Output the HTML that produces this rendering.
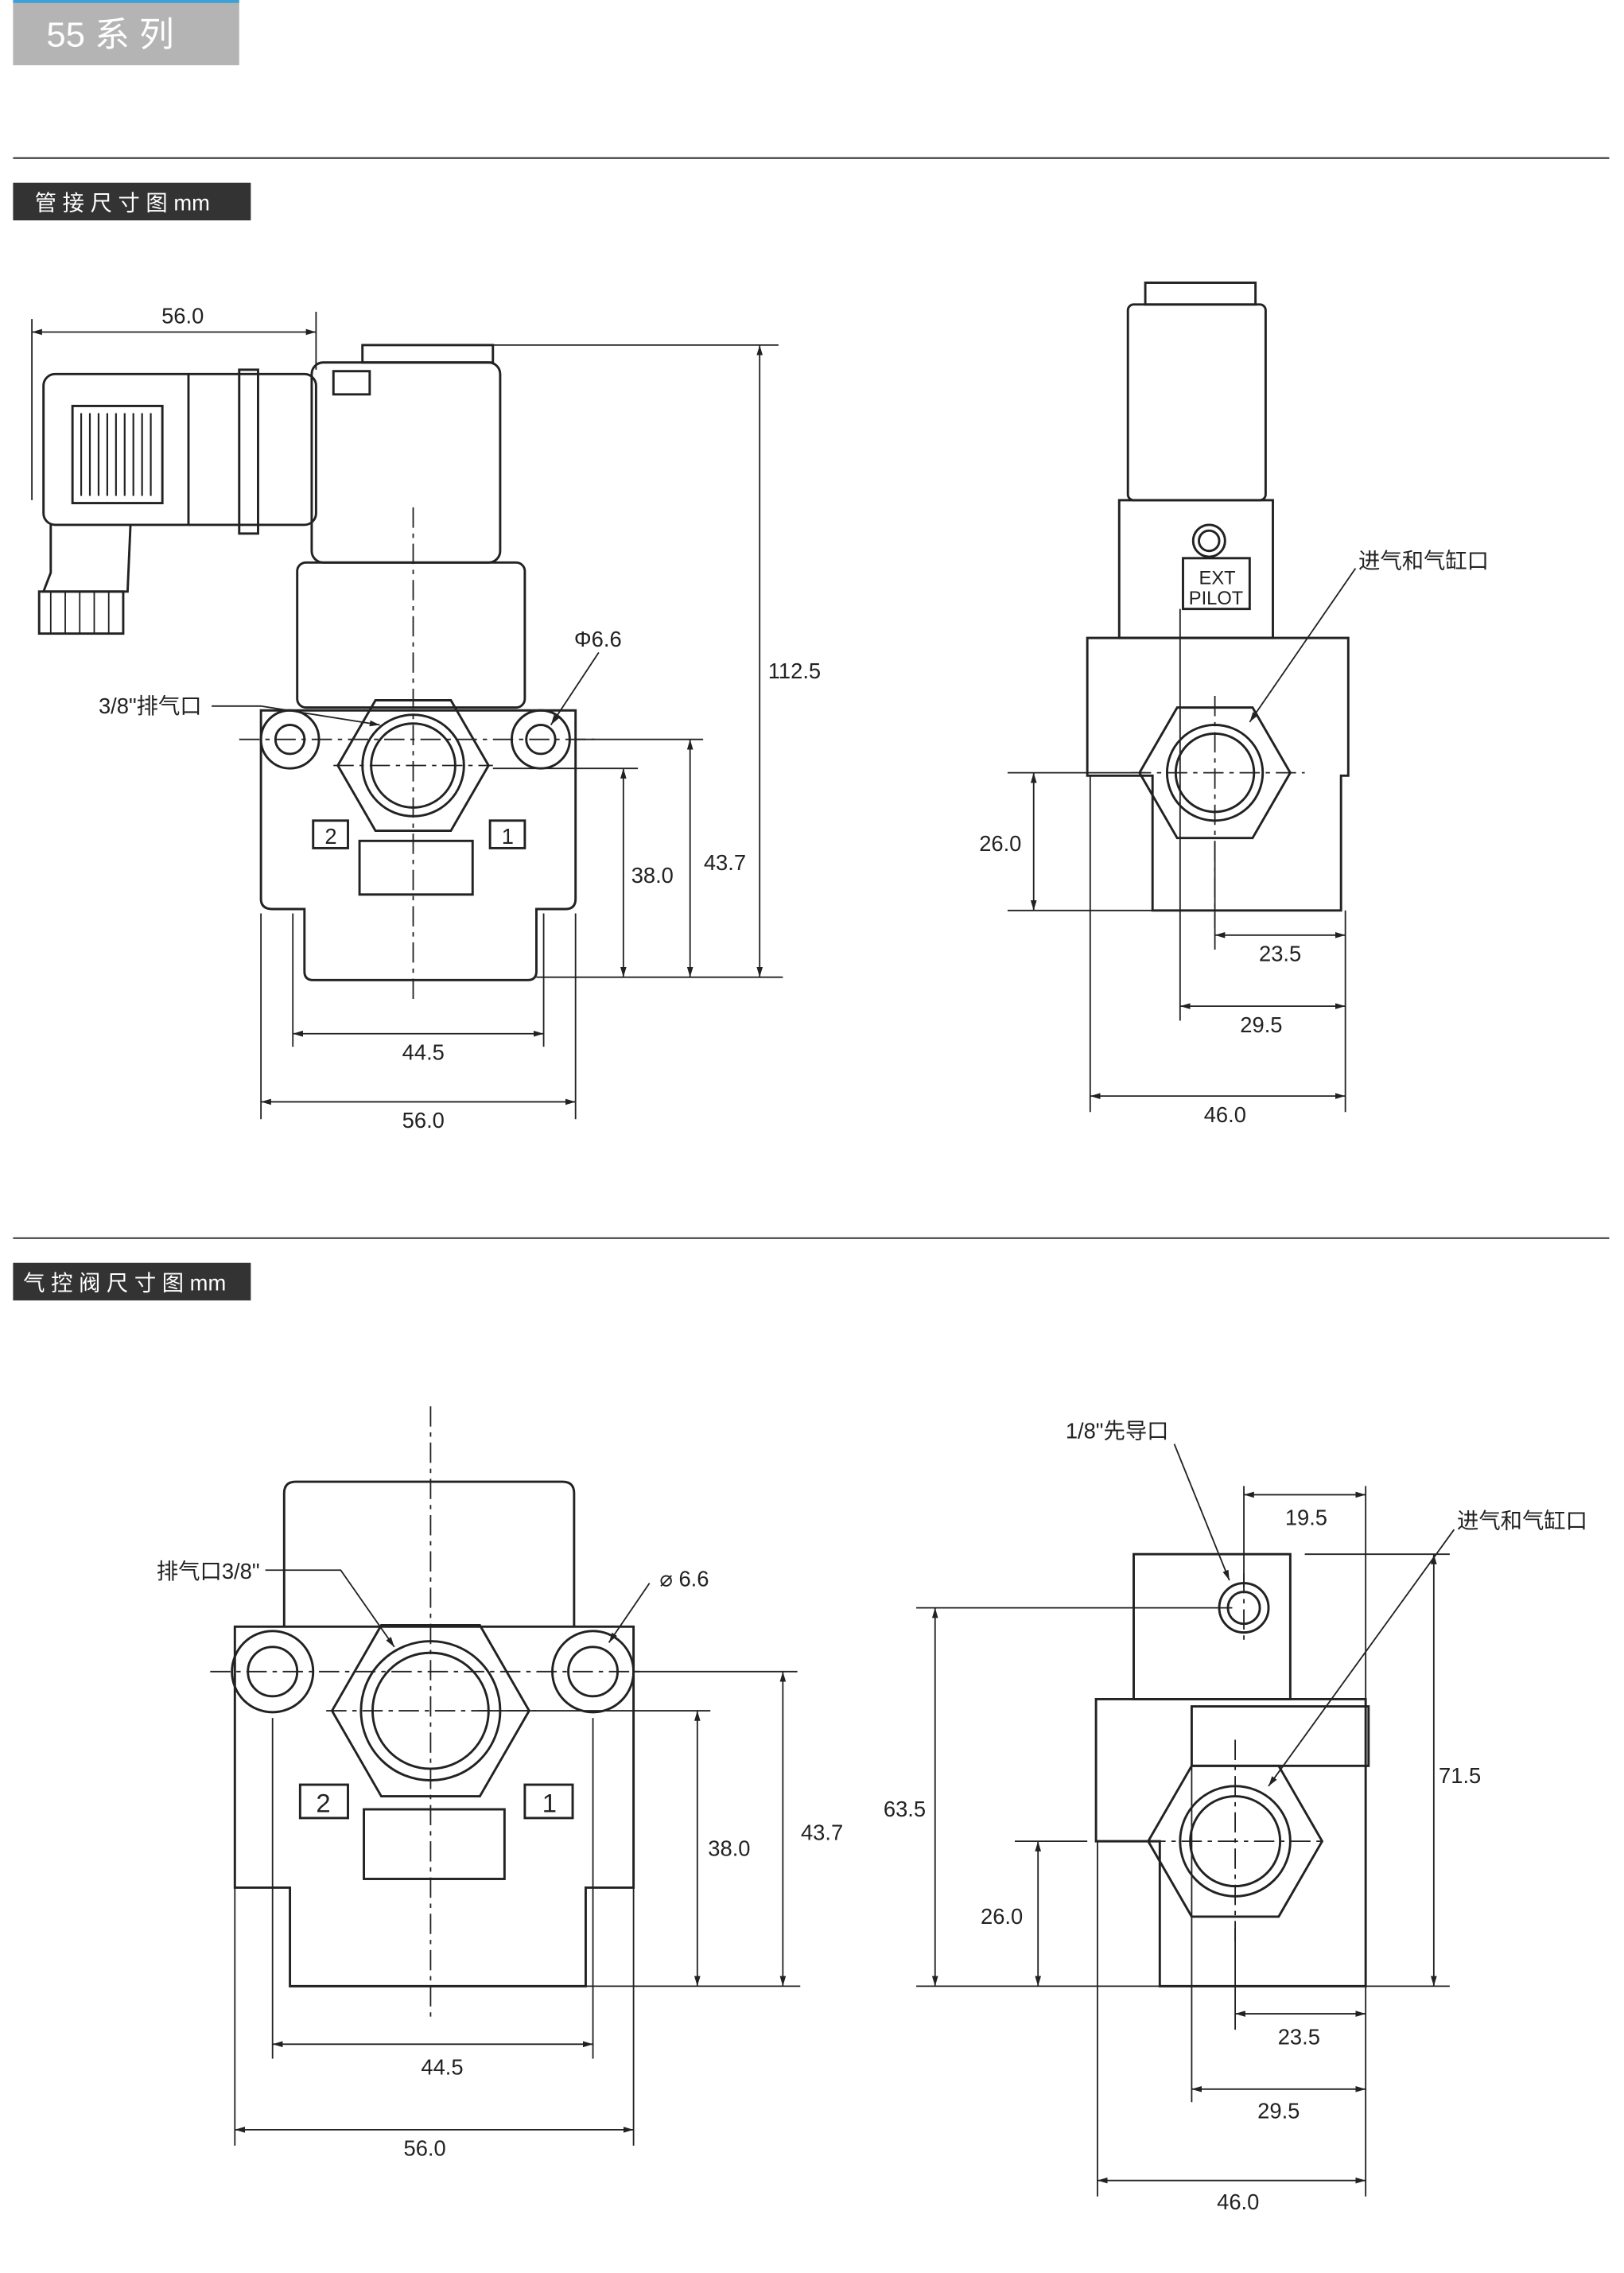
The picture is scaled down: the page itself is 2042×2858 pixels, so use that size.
<!DOCTYPE html>
<html><head><meta charset="utf-8"><style>
html,body{margin:0;padding:0;background:#fff;}
svg{display:block;}
text{font-family:"Liberation Sans","Noto Sans CJK SC",sans-serif;fill:#222;}
</style></head><body>
<svg width="2042" height="2858" viewBox="0 0 1120.2 1567.8" xmlns="http://www.w3.org/2000/svg">
<defs>
<marker id="a" viewBox="0 0 10 10" refX="10" refY="5" markerWidth="7" markerHeight="7" orient="auto-start-reverse"><path d="M0,2 L10,5 L0,8 z" fill="#222"/></marker>
</defs>
<!-- header -->
<rect x="9" y="0" width="156" height="45" fill="#b4b4b4"/>
<rect x="9" y="0" width="156" height="2" fill="#3aa0d8"/>
<text x="32" y="32" font-size="24" style="fill:#fff">55 系 列</text>
<line x1="9" y1="109" x2="1110" y2="109" stroke="#444" stroke-width="1.2"/>
<rect x="9" y="126" width="164" height="26" fill="#333"/>
<text x="24" y="145" font-size="15" style="fill:#fff">管 接 尺 寸 图 mm</text>
<line x1="9" y1="854" x2="1110" y2="854" stroke="#444" stroke-width="1.2"/>
<rect x="9" y="871" width="164" height="26" fill="#333"/>
<text x="16" y="890" font-size="15" style="fill:#fff">气 控 阀 尺 寸 图 mm</text>

<g fill="none" stroke="#222" stroke-width="1.6">
<!-- drawing 1 -->
<rect x="30" y="258" width="188" height="104" rx="8"/>
<rect x="50" y="280" width="62" height="67"/>
<path d="M56,285v57M62,285v57M68,285v57M74,285v57M80,285v57M86,285v57M92,285v57M98,285v57M104,285v57" stroke-width="1.2"/>
<line x1="130" y1="258" x2="130" y2="362"/>
<rect x="165" y="255" width="13" height="113"/>
<path d="M35,362 L35,395 L30,408 L88,408 L90,362"/>
<rect x="27" y="408" width="58" height="29"/>
<path d="M35,408v29M45,408v29M55,408v29M65,408v29M75,408v29" stroke-width="1"/>
<rect x="250" y="238" width="90" height="12"/>
<rect x="215" y="250" width="130" height="138" rx="8"/>
<rect x="230" y="256" width="25" height="16"/>
<rect x="205" y="388" width="157" height="100" rx="6"/>
<path d="M200,490 L180,490 Q180,500 180,510 L180,620 Q180,627 188,627 L210,627 L210,670 Q210,676 216,676 L364,676 Q370,676 370,670 L370,627 L390,627 Q397,627 397,620 L397,490 Z"/>
<circle cx="200" cy="510" r="20"/><circle cx="200" cy="510" r="10"/>
<circle cx="373" cy="510" r="20"/><circle cx="373" cy="510" r="10"/>
<polygon points="233,528 259,483 311,483 337,528 311,573 259,573"/>
<circle cx="285" cy="528" r="35"/><circle cx="285" cy="528" r="29"/>
<rect x="216" y="566" width="24" height="19"/><rect x="338" y="566" width="24" height="19"/>
<rect x="248" y="580" width="78" height="37"/>
<!-- drawing 2 -->
<rect x="790" y="195" width="76" height="15"/>
<rect x="778" y="210" width="95" height="135" rx="4"/>
<rect x="772" y="345" width="106" height="95"/>
<circle cx="834" cy="373" r="11"/><circle cx="834" cy="373" r="7"/>
<rect x="816" y="385" width="46" height="35"/>
<path d="M750,440 L930,440 L930,535 L925,535 L925,628 L795,628 L795,535 L750,535 Z"/>
<polygon points="786,533 812,488 864,488 890,533 864,578 812,578"/>
<circle cx="838" cy="533" r="33"/><circle cx="838" cy="533" r="27"/>
<!-- drawing 3 -->
<path d="M196,1122 L196,1030 Q196,1022 204,1022 L388,1022 Q396,1022 396,1030 L396,1122"/>
<path d="M162,1122 L437,1122 L437,1302 L404,1302 L404,1370 L200,1370 L200,1302 L162,1302 Z"/>
<circle cx="188" cy="1153" r="28"/><circle cx="188" cy="1153" r="17"/>
<circle cx="409" cy="1153" r="28"/><circle cx="409" cy="1153" r="17"/>
<polygon points="229,1180 263,1121 331,1121 365,1180 331,1239 263,1239"/>
<circle cx="297" cy="1180" r="48"/><circle cx="297" cy="1180" r="40"/>
<rect x="207" y="1231" width="33" height="23"/><rect x="362" y="1231" width="33" height="23"/>
<rect x="251" y="1248" width="97" height="48"/>
<!-- drawing 4 -->
<rect x="782" y="1072" width="108" height="100"/>
<circle cx="858" cy="1109" r="17"/><circle cx="858" cy="1109" r="11"/>
<path d="M756,1172 L942,1172 L942,1370 L800,1370 L800,1270 L756,1270 Z"/>
<rect x="822" y="1177" width="122" height="41"/>
<polygon points="792,1270 822,1218 882,1218 912,1270 882,1322 822,1322"/>
<circle cx="852" cy="1270" r="38"/><circle cx="852" cy="1270" r="31"/>
</g>
<text x="827" y="403" font-size="13">EXT</text>
<text x="820" y="417" font-size="13">PILOT</text>
<text x="224" y="582" font-size="15">2</text><text x="346" y="582" font-size="15">1</text>
<text x="218" y="1250" font-size="18">2</text><text x="374" y="1250" font-size="18">1</text>

<!-- center lines -->
<g stroke="#222" stroke-width="1" stroke-dasharray="14,4,3,4" fill="none">
<line x1="285" y1="350" x2="285" y2="690"/><line x1="230" y1="528" x2="340" y2="528"/>
<line x1="165" y1="510" x2="410" y2="510"/>
<line x1="838" y1="480" x2="838" y2="640"/><line x1="780" y1="533" x2="900" y2="533"/>
<line x1="297" y1="970" x2="297" y2="1395"/><line x1="145" y1="1153" x2="445" y2="1153"/>
<line x1="225" y1="1180" x2="370" y2="1180"/>
<line x1="852" y1="1200" x2="852" y2="1340"/><line x1="790" y1="1270" x2="915" y2="1270"/>
<line x1="858" y1="1085" x2="858" y2="1135"/>
</g>

<!-- dims -->
<g stroke="#222" stroke-width="1" fill="none">
<line x1="22" y1="220" x2="22" y2="345"/><line x1="218" y1="215" x2="218" y2="255"/>
<line x1="22" y1="229" x2="218" y2="229" marker-start="url(#a)" marker-end="url(#a)"/>
<line x1="250" y1="238" x2="537" y2="238"/><line x1="370" y1="674" x2="540" y2="674"/>
<line x1="524" y1="238" x2="524" y2="674" marker-start="url(#a)" marker-end="url(#a)"/>
<line x1="397" y1="510" x2="485" y2="510"/><line x1="340" y1="530" x2="440" y2="530"/>
<line x1="476" y1="510" x2="476" y2="674" marker-start="url(#a)" marker-end="url(#a)"/>
<line x1="430" y1="530" x2="430" y2="674" marker-start="url(#a)" marker-end="url(#a)"/>
<line x1="202" y1="630" x2="202" y2="722"/><line x1="375" y1="630" x2="375" y2="722"/>
<line x1="202" y1="713" x2="375" y2="713" marker-start="url(#a)" marker-end="url(#a)"/>
<line x1="180" y1="630" x2="180" y2="772"/><line x1="397" y1="630" x2="397" y2="772"/>
<line x1="180" y1="760" x2="397" y2="760" marker-start="url(#a)" marker-end="url(#a)"/>
<polyline points="413,450 380,500" marker-end="url(#a)"/>
<polyline points="146,487 180,487 262,500" marker-end="url(#a)"/>

<line x1="695" y1="533" x2="790" y2="533"/><line x1="695" y1="628" x2="795" y2="628"/>
<line x1="713" y1="533" x2="713" y2="628" marker-start="url(#a)" marker-end="url(#a)"/>
<line x1="838" y1="580" x2="838" y2="655"/><line x1="928" y1="628" x2="928" y2="767"/>
<line x1="838" y1="645" x2="928" y2="645" marker-start="url(#a)" marker-end="url(#a)"/>
<line x1="814" y1="420" x2="814" y2="704"/>
<line x1="814" y1="694" x2="928" y2="694" marker-start="url(#a)" marker-end="url(#a)"/>
<line x1="752" y1="535" x2="752" y2="767"/>
<line x1="752" y1="756" x2="928" y2="756" marker-start="url(#a)" marker-end="url(#a)"/>
<polyline points="935,392 862,498" marker-end="url(#a)"/>

<line x1="437" y1="1153" x2="550" y2="1153"/><line x1="330" y1="1180" x2="490" y2="1180"/>
<line x1="404" y1="1370" x2="552" y2="1370"/>
<line x1="481" y1="1180" x2="481" y2="1370" marker-start="url(#a)" marker-end="url(#a)"/>
<line x1="540" y1="1153" x2="540" y2="1370" marker-start="url(#a)" marker-end="url(#a)"/>
<line x1="188" y1="1185" x2="188" y2="1420"/><line x1="409" y1="1185" x2="409" y2="1420"/>
<line x1="188" y1="1410" x2="409" y2="1410" marker-start="url(#a)" marker-end="url(#a)"/>
<line x1="162" y1="1302" x2="162" y2="1480"/><line x1="437" y1="1302" x2="437" y2="1480"/>
<line x1="162" y1="1469" x2="437" y2="1469" marker-start="url(#a)" marker-end="url(#a)"/>
<polyline points="183,1083 235,1083 272,1136" marker-end="url(#a)"/>
<polyline points="448,1092 420,1133" marker-end="url(#a)"/>

<line x1="858" y1="1025" x2="858" y2="1095"/><line x1="942" y1="1025" x2="942" y2="1172"/>
<line x1="858" y1="1031" x2="942" y2="1031" marker-start="url(#a)" marker-end="url(#a)"/>
<line x1="900" y1="1072" x2="1000" y2="1072"/><line x1="942" y1="1370" x2="1000" y2="1370"/>
<line x1="989" y1="1072" x2="989" y2="1370" marker-start="url(#a)" marker-end="url(#a)"/>
<line x1="632" y1="1109" x2="850" y2="1109"/><line x1="632" y1="1370" x2="800" y2="1370"/>
<line x1="645" y1="1109" x2="645" y2="1370" marker-start="url(#a)" marker-end="url(#a)"/>
<line x1="700" y1="1270" x2="750" y2="1270"/>
<line x1="716" y1="1270" x2="716" y2="1370" marker-start="url(#a)" marker-end="url(#a)"/>
<line x1="852" y1="1330" x2="852" y2="1400"/>
<line x1="852" y1="1389" x2="942" y2="1389" marker-start="url(#a)" marker-end="url(#a)"/>
<line x1="942" y1="1370" x2="942" y2="1515"/>
<line x1="822" y1="1218" x2="822" y2="1450"/>
<line x1="822" y1="1441" x2="942" y2="1441" marker-start="url(#a)" marker-end="url(#a)"/>
<line x1="757" y1="1270" x2="757" y2="1515"/>
<line x1="757" y1="1504" x2="942" y2="1504" marker-start="url(#a)" marker-end="url(#a)"/>
<polyline points="810,996 848,1090" marker-end="url(#a)"/>
<polyline points="1003,1055 875,1232" marker-end="url(#a)"/>
</g>

<g font-size="15" text-anchor="middle">
<text x="126" y="223">56.0</text>
<text x="548" y="468">112.5</text>
<text x="500" y="600">43.7</text>
<text x="450" y="609">38.0</text>
<text x="292" y="731">44.5</text>
<text x="292" y="778">56.0</text>
<text x="690" y="587">26.0</text>
<text x="883" y="663">23.5</text>
<text x="870" y="712">29.5</text>
<text x="845" y="774">46.0</text>
<text x="503" y="1280">38.0</text>
<text x="567" y="1269">43.7</text>
<text x="305" y="1431">44.5</text>
<text x="293" y="1487">56.0</text>
<text x="901" y="1052">19.5</text>
<text x="1007" y="1230">71.5</text>
<text x="624" y="1253">63.5</text>
<text x="691" y="1327">26.0</text>
<text x="896" y="1410">23.5</text>
<text x="882" y="1461">29.5</text>
<text x="854" y="1524">46.0</text>
</g>
<g font-size="15">
<text x="396" y="446">Φ6.6</text>
<text x="68" y="492">3/8"排气口</text>
<text x="937" y="392">进气和气缸口</text>
<text x="108" y="1089">排气口3/8"</text>
<text x="455" y="1094">⌀ 6.6</text>
<text x="735" y="992">1/8"先导口</text>
<text x="1005" y="1054">进气和气缸口</text>
</g>
</svg>
</body></html>
